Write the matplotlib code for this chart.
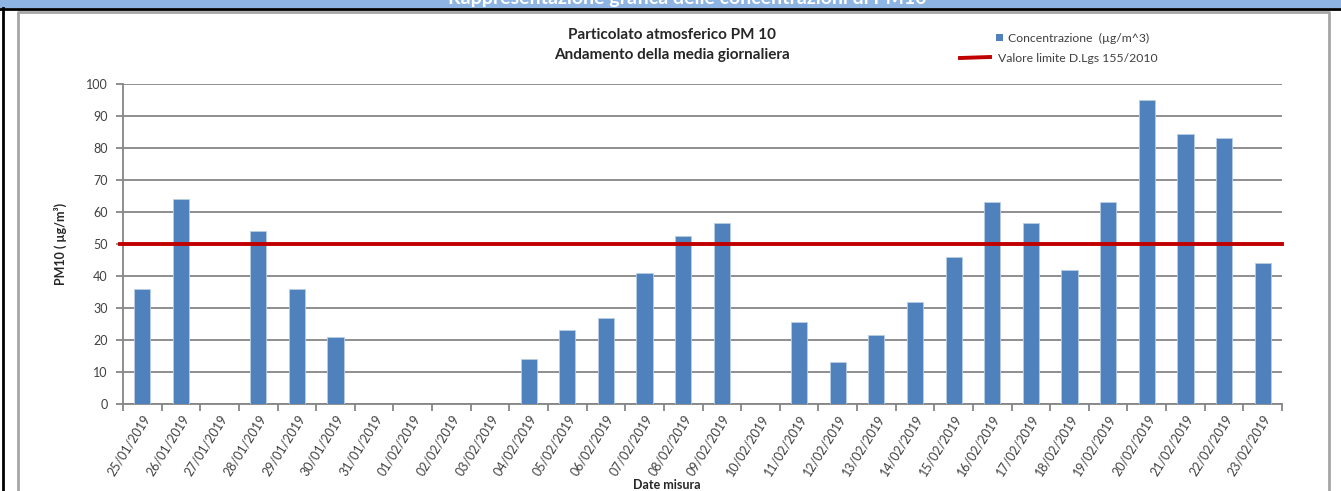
import numpy as np
import matplotlib
matplotlib.use("Agg")
import matplotlib.pyplot as plt
from matplotlib.lines import Line2D
from matplotlib.patches import Rectangle

plt.rcParams['font.family'] = ['Lato', 'DejaVu Sans']

# dati (giorni senza misura = nan)
date = ["25/01/2019", "26/01/2019", "27/01/2019", "28/01/2019", "29/01/2019",
        "30/01/2019", "31/01/2019", "01/02/2019", "02/02/2019", "03/02/2019",
        "04/02/2019", "05/02/2019", "06/02/2019", "07/02/2019", "08/02/2019",
        "09/02/2019", "10/02/2019", "11/02/2019", "12/02/2019", "13/02/2019",
        "14/02/2019", "15/02/2019", "16/02/2019", "17/02/2019", "18/02/2019",
        "19/02/2019", "20/02/2019", "21/02/2019", "22/02/2019", "23/02/2019"]
pm10 = [36, 64, np.nan, 54, 36, 21, np.nan, np.nan, np.nan, np.nan,
        14, 23, 27, 41, 52.5, 56.5, np.nan, 25.5, 13, 21.5,
        32, 46, 63, 56.5, 42, 63, 95, 84.5, 83, 44]
limite = 50

blu = "#4F81BD"
rosso = "#C00000"
grigio = "#868686"
testo = "#404040"

fig = plt.figure(figsize=(13.41, 4.91), dpi=100)
W, H = 1341, 491

def fx(px):
    return px / W

def fy(py):
    return 1 - py / H

# banner in alto e cornici
fig.add_artist(Rectangle((0, fy(8)), 1, 8 / H, transform=fig.transFigure,
                         facecolor="#8DB4E2", edgecolor="none"))
fig.text(fx(687), fy(4), "Rappresentazione grafica delle concentrazioni di PM10",
         color="white", fontsize=14, fontweight="bold", ha="center", va="baseline")
fig.add_artist(Line2D([0, 1], [fy(8.5), fy(8.5)], transform=fig.transFigure,
                      color="black", lw=2))
fig.add_artist(Line2D([fx(2.5), fx(2.5)], [0, fy(8)], transform=fig.transFigure,
                      color="black", lw=2))
fig.add_artist(Line2D([fx(17.5), fx(17.5), fx(1328.5), fx(1328.5)],
                      [0, fy(12), fy(12), 0], transform=fig.transFigure,
                      color="#A6A6A6", lw=2))

ax = fig.add_axes([fx(123), fy(404), fx(1282 - 123), (404 - 84) / H])
x = np.arange(len(date))
ax.bar(x, pm10, width=0.42, color=blu, edgecolor="#B9CDE5", linewidth=0.6, zorder=3)
ax.axhline(limite, xmin=-0.003, color=rosso, lw=2.8, zorder=4, clip_on=False)

ax.set_xlim(-0.5, len(date) - 0.5)
ax.set_ylim(0, 100)
ax.set_yticks(np.arange(0, 101, 10))
ax.yaxis.grid(True, color=grigio, lw=1.3, zorder=0)
ax.set_axisbelow(True)
for s in ["top", "right"]:
    ax.spines[s].set_visible(False)
for s in ["left", "bottom"]:
    ax.spines[s].set_color(grigio)
    ax.spines[s].set_linewidth(1.3)

# tacche tra le categorie, etichette al centro
ax.set_xticks(np.arange(-0.5, len(date), 1))
ax.set_xticklabels([])
ax.set_xticks(x, minor=True)
ax.set_xticklabels(date, minor=True, rotation=58, ha="right", rotation_mode="anchor",
                   fontsize=9, color=testo)
ax.tick_params(axis="x", which="minor", length=0, pad=6)
ax.tick_params(axis="x", which="major", length=5, color=grigio, width=1.3)
ax.tick_params(axis="y", length=5, color=grigio, width=1.3, labelsize=9,
               labelcolor=testo, pad=6)

ax.set_ylabel("PM10 ( µg/m³)", fontsize=9, fontweight="bold", color="#262626",
              labelpad=14)
fig.text(fx(667), fy(485), "Date misura", fontsize=9, fontweight="bold",
         color="#262626", ha="center", va="center")

fig.text(fx(672), fy(35), "Particolato atmosferico PM 10", fontsize=11,
         fontweight="bold", color="#262626", ha="center", va="center")
fig.text(fx(672), fy(55), "Andamento della media giornaliera", fontsize=11,
         fontweight="bold", color="#262626", ha="center", va="center")

# legenda
fig.add_artist(Rectangle((fx(996), fy(41)), 7 / W, 7 / H, transform=fig.transFigure,
                         facecolor=blu, edgecolor="none"))
fig.text(fx(1008), fy(38), "Concentrazione  (µg/m^3)", fontsize=8.8, color=testo,
         va="center")
fig.add_artist(Line2D([fx(960), fx(990)], [fy(58), fy(57)], transform=fig.transFigure,
                      color=rosso, lw=2.8))
fig.text(fx(998), fy(58), "Valore limite D.Lgs 155/2010", fontsize=8.8, color=testo,
         va="center")

fig.savefig("out.png", dpi=100)
